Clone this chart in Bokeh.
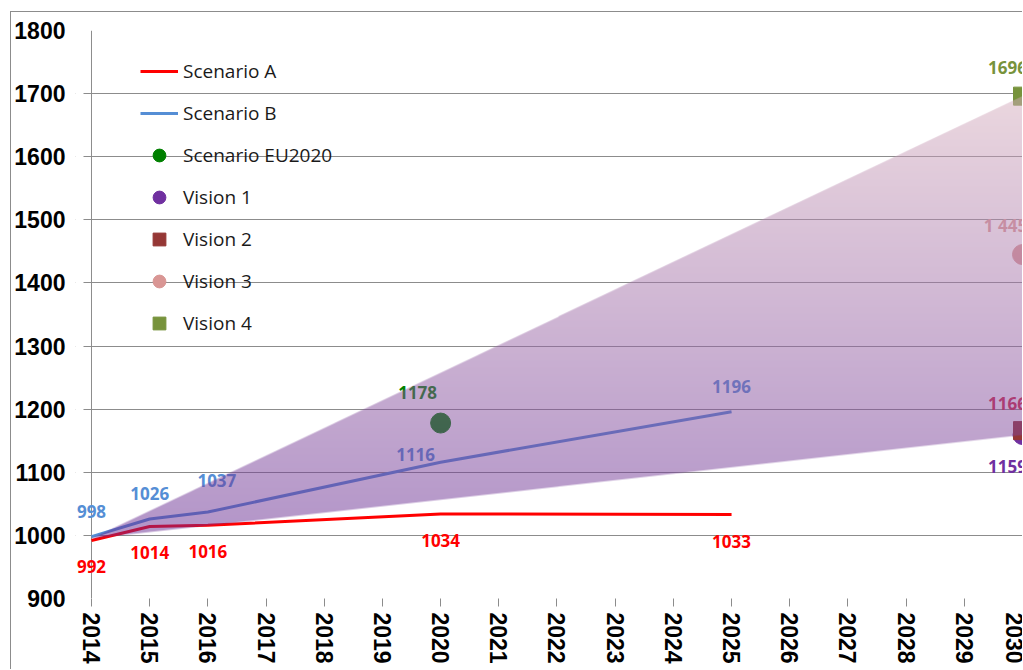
import numpy as np
from bokeh.plotting import figure
from bokeh.models import (Range1d, FixedTicker, Legend, LegendItem, LabelSet,
                          ColumnDataSource, BoxAnnotation, Span)
from bokeh.core.properties import value
from bokeh.embed import file_html
from bokeh.resources import INLINE

# ---------------- data ----------------
years_a = [2014, 2015, 2016, 2020, 2025]
scenario_a = [992, 1014, 1016, 1034, 1033]
years_b = [2014, 2015, 2016, 2020, 2025]
scenario_b = [998, 1026, 1037, 1116, 1196]
eu_years = [2020]
scenario_eu2020 = [1178]
vision_years = [2030]
vision1 = [1159]
vision2 = [1166]
vision3 = [1445]
vision4 = [1696]
vision3_text = ["1 445"]
wedge_years = [2014, 2030]
wedge_low = [995, 1159]
wedge_high = [995, 1696]
year_ticks = list(range(2014, 2031))
value_ticks = list(range(900, 1801, 100))

FONT = value("Open Sans")
LABEL_SIZE = "17px"
PX_PER_YEAR = 58.2          # layout scale, used only to pad the x range
first_year, last_year = year_ticks[0], year_ticks[-1]

p = figure(width=1012, height=658,
           x_range=Range1d(first_year - 16 / PX_PER_YEAR, last_year + 1 / PX_PER_YEAR),
           y_range=Range1d(900, 1800),
           output_backend="svg", toolbar_location=None,
           min_border_left=64, min_border_right=0,
           min_border_top=18, min_border_bottom=72)
p.styles = {"margin-left": "10px", "margin-top": "11px",
            "border-left": "1px solid #8c8c8c", "border-top": "1px solid #8c8c8c"}
p.outline_line_color = None
p.background_fill_color = "white"
p.border_fill_color = "white"

p.xgrid.visible = False
p.ygrid.ticker = FixedTicker(ticks=value_ticks)
p.ygrid.grid_line_color = "#8c8c8c"
p.ygrid.grid_line_width = 1

for ax in (p.xaxis[0], p.yaxis[0]):
    ax.major_tick_line_color = "#8c8c8c"
    ax.major_tick_out = 8
    ax.major_tick_in = 0
    ax.minor_tick_out = 0
    ax.minor_tick_in = 0
    ax.major_label_text_font = "Liberation Sans"
    ax.major_label_text_font_style = "bold"
    ax.major_label_text_font_size = "23px"
    ax.major_label_text_color = "black"

p.xaxis.ticker = FixedTicker(ticks=year_ticks)
p.xaxis.axis_line_color = None
p.xaxis.major_label_orientation = "vertical"
p.xaxis.major_label_standoff = 6
p.yaxis.ticker = FixedTicker(ticks=value_ticks)
p.yaxis.axis_line_color = None
p.yaxis.major_tick_line_color = None
p.yaxis.major_tick_out = 0
p.yaxis.major_label_standoff = 10

# gridlines start 8px left of the value axis (they double as its tick marks)
p.add_layout(BoxAnnotation(right=first_year - 8 / PX_PER_YEAR, fill_color="white",
                           fill_alpha=1, line_color=None, level="underlay"))
p.add_layout(Span(location=first_year, dimension="height", line_color="#8c8c8c",
                  line_width=1, level="underlay"))

# ---------------- series ----------------
COL_A = "#FF0000"
COL_B = "#558ED5"
COL_EU = "#008000"
COL_V1 = "#7030A0"
COL_V2 = "#953735"
COL_V3 = "#D99694"
COL_V4 = "#77933C"

r_a = p.line(years_a, scenario_a, line_color=COL_A, line_width=3)
r_b = p.line(years_b, scenario_b, line_color=COL_B, line_width=3)
r_eu = p.scatter(eu_years, scenario_eu2020, marker="circle", size=20, color=COL_EU)
r_v1 = p.scatter(vision_years, vision1, marker="circle", size=19, color=COL_V1)
r_v2 = p.scatter(vision_years, vision2, marker="square", size=18, color=COL_V2)
r_v3 = p.scatter(vision_years, vision3, marker="circle", size=20, color=COL_V3)
r_v4 = p.scatter(vision_years, vision4, marker="square", size=18, color=COL_V4)

def labels(xs, ys, texts, color, dx, dy, level):
    n = len(xs)
    dx = dx if isinstance(dx, list) else [dx] * n
    dy = dy if isinstance(dy, list) else [dy] * n
    src = ColumnDataSource(dict(x=xs, y=ys, t=texts, dx=dx, dy=[-v for v in dy]))
    ls = LabelSet(x="x", y="y", text="t", x_offset="dx", y_offset="dy", source=src,
                  text_align="center", text_baseline="middle",
                  text_font=FONT, text_font_style="bold",
                  text_font_size=LABEL_SIZE, text_color=color, level=level)
    p.add_layout(ls)

# labels lying outside the shaded wedge are drawn on top; those inside stay under it
labels(years_a, scenario_a, [str(v) for v in scenario_a], COL_A,
       [0, 0, 0, 0, 0], [26, 26, 26, 27, 27], "annotation")
labels(years_b[:2], scenario_b[:2], [str(v) for v in scenario_b[:2]], COL_B,
       [0, 0], [-25, -25], "annotation")
labels(years_b[2:], scenario_b[2:], [str(v) for v in scenario_b[2:]], COL_B,
       [9, -25, 0], [-32, -8, -25], "underlay")
labels(eu_years, scenario_eu2020, [str(v) for v in scenario_eu2020], COL_EU, -23, -31, "underlay")
labels(vision_years, vision1, [str(v) for v in vision1], COL_V1, -15, 31, "annotation")
labels(vision_years, vision2, [str(v) for v in vision2], "#D02848", -15, -27, "underlay")
labels(vision_years, vision3, vision3_text, COL_V3, -17, -29, "underlay")
labels(vision_years, vision4, [str(v) for v in vision4], COL_V4, -15, -29, "annotation")

# ---------------- gradient wedge (raster computed from wedge data) ----------------
nx, ny = 932, 442
x0, x1 = wedge_years
y0 = min(wedge_low + wedge_high)
y1 = max(wedge_low + wedge_high)
dx = (x1 - x0) / nx
dy = (y1 - y0) / ny
xc = x0 + (np.arange(nx) + 0.5) * dx
yc = y0 + (np.arange(ny) + 0.5) * dy
XX, YY = np.meshgrid(xc, yc)
lo = np.interp(XX, wedge_years, wedge_low)
hi = np.interp(XX, wedge_years, wedge_high)
mask = np.clip((hi - YY) / dy + 0.5, 0, 1) * np.clip((YY - lo) / dy + 0.5, 0, 1)
t = (YY - y0) / (y1 - y0)
bottom_rgb = np.array([101, 41, 145], dtype=float)
top_rgb = np.array([213, 173, 189], dtype=float)
img = np.zeros((ny, nx), dtype=np.uint32)
view = img.view(dtype=np.uint8).reshape((ny, nx, 4))
for k in range(3):
    view[:, :, k] = (bottom_rgb[k] + (top_rgb[k] - bottom_rgb[k]) * t).astype(np.uint8)
view[:, :, 3] = (mask * 0.5 * 255).astype(np.uint8)
p.image_rgba(image=[img], x=x0, y=y0, dw=x1 - x0, dh=y1 - y0)

# ---------------- legend ----------------
legend = Legend(items=[
    LegendItem(label="Scenario A", renderers=[r_a]),
    LegendItem(label="Scenario B", renderers=[r_b]),
    LegendItem(label="Scenario EU2020", renderers=[r_eu]),
    LegendItem(label="Vision 1", renderers=[r_v1]),
    LegendItem(label="Vision 2", renderers=[r_v2]),
    LegendItem(label="Vision 3", renderers=[r_v3]),
    LegendItem(label="Vision 4", renderers=[r_v4]),
], location=(65, 259))
legend.background_fill_alpha = 0
legend.border_line_color = None
legend.padding = 0
legend.margin = 0
legend.spacing = 10
legend.glyph_width = 38
legend.glyph_height = 32
legend.label_height = 32
legend.label_standoff = 5
legend.label_text_font = "Open Sans"
legend.label_text_font_size = "19px"
legend.label_text_color = "#1a1a1a"
p.add_layout(legend)

open("out.html", "w").write(file_html(p, INLINE))
